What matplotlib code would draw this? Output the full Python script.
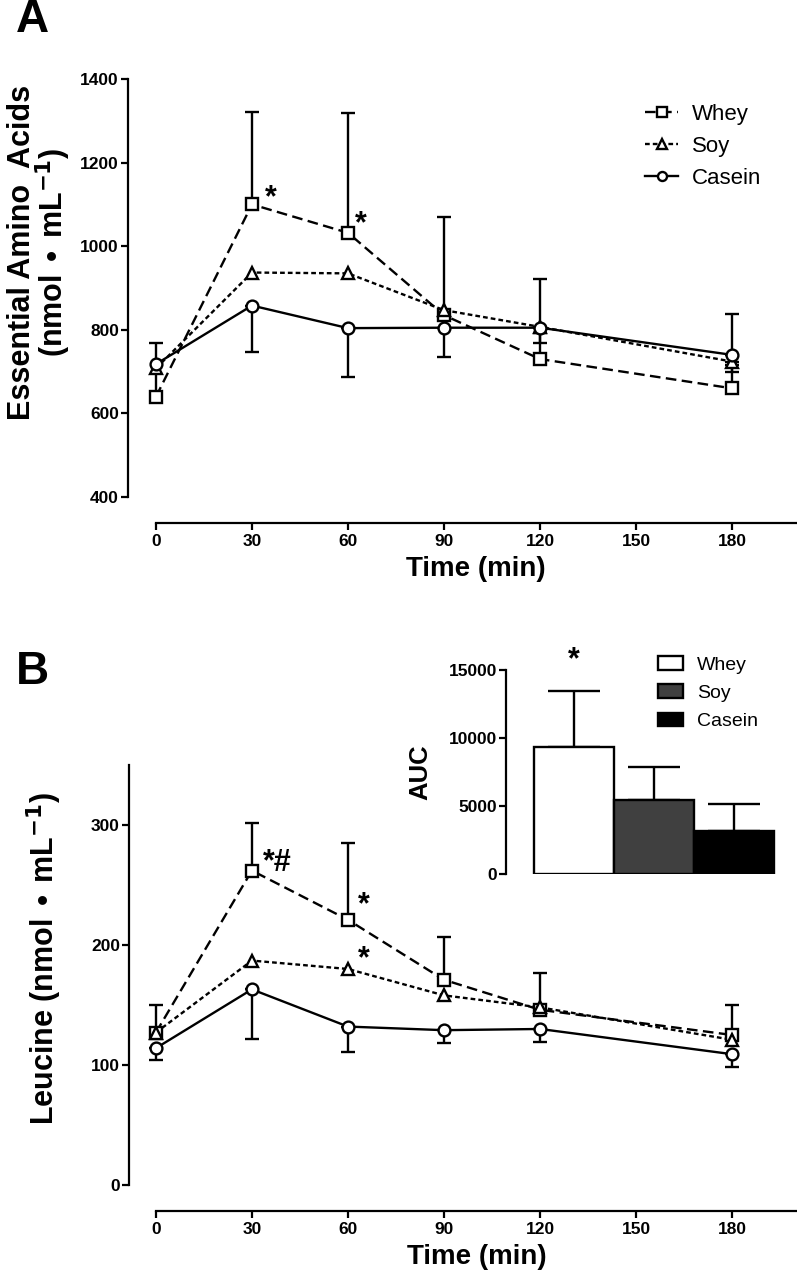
import numpy as np
import matplotlib
matplotlib.use("Agg")
import matplotlib.pyplot as plt
from matplotlib.lines import Line2D
from matplotlib.patches import Patch

plt.rcParams['font.family'] = ['Liberation Sans Narrow', 'Liberation Sans', 'DejaVu Sans']

# ── Data ─────────────────────────────────────────────────────────────────────
time = [0, 30, 60, 90, 120, 180]

# Panel A: essential amino acids (nmol/mL)
eaa_whey = [640, 1100, 1032, 835, 730, 660]
eaa_soy = [708, 937, 935, 847, 807, 724]
eaa_casein = [718, 858, 804, 805, 805, 740]
eaa_whey_up = [128, 222, 286, 236, 192, 178]
eaa_soy_down = [np.nan, np.nan, np.nan, np.nan, 15, 8]
eaa_casein_down = [np.nan, 111, 116, 69, 37, 41]

# Panel B: leucine (nmol/mL)
leu_whey = [127, 262, 221, 171, 146, 125]
leu_soy = [127, 187, 180, 158, 148, 121]
leu_casein = [114, 163, 132, 129, 130, 109]
leu_whey_up = [23, 40, 64, 36, 31, 25]
leu_casein_down = [10, 41, 21, 11, 11, 11]

# Inset: AUC
auc_groups = ['Whey', 'Soy', 'Casein']
auc_vals = [9360, 5420, 3160]
auc_err = [4100, 2470, 1960]
auc_colors = ['white', '#404040', 'black']

# ── Layout helpers (pixel -> figure fraction) ────────────────────────────────
W, H = 797, 1280
fig = plt.figure(figsize=(W / 100, H / 100), dpi=100)


def box(left, top, right, bottom):
    return [left / W, 1 - bottom / H, (right - left) / W, (bottom - top) / H]


def fxy(x, y):
    return x / W, 1 - y / H


LW = 1.7
TICK_FS = 12.5
LABEL_FS = 22
STAR_FS = 22
styles = {
    'Whey': dict(marker='s', ls=(0, (4.5, 2.3)), ms=8),
    'Soy': dict(marker='^', ls=(0, (2.0, 1.3)), ms=8.5),
    'Casein': dict(marker='o', ls='-', ms=8.5),
}


def style_axes(ax, ybounds, xbounds):
    for s in ['top', 'right']:
        ax.spines[s].set_visible(False)
    for s in ['left', 'bottom']:
        ax.spines[s].set_linewidth(1.6)
    ax.spines['left'].set_bounds(*ybounds)
    ax.spines['bottom'].set_bounds(*xbounds)
    ax.tick_params(width=1.6, length=5, labelsize=TICK_FS)
    ax.tick_params(axis='y', pad=1.5)
    ax.tick_params(axis='x', pad=3)
    for lab in ax.get_xticklabels() + ax.get_yticklabels():
        lab.set_fontweight('bold')


def draw_series(ax, name, y, up=None, down=None):
    st = styles[name]
    ax.plot(time, y, color='black', lw=LW, ls=st['ls'], zorder=3)
    t = np.array(time, dtype=float)
    yv = np.array(y, dtype=float)
    for err, sign in [(up, 1), (down, -1)]:
        if err is None:
            continue
        e = np.array(err, dtype=float)
        ok = ~np.isnan(e)
        yerr = [np.zeros(ok.sum()), e[ok]] if sign > 0 else [e[ok], np.zeros(ok.sum())]
        ax.errorbar(t[ok], yv[ok], yerr=yerr, fmt='none', ecolor='black',
                    elinewidth=1.7, capsize=4.8, capthick=1.7, zorder=2)
    ax.plot(time, y, ls='none', marker=st['marker'], ms=st['ms'], mfc='white',
            mec='black', mew=1.7, zorder=4)


def star(ax, x, y, s='*'):
    ax.text(x, y, s, fontsize=STAR_FS, fontweight='bold', ha='center', va='center',
            clip_on=False)


# ── Panel A ──────────────────────────────────────────────────────────────────
axA = fig.add_axes(box(128, 79, 797, 523))
draw_series(axA, 'Whey', eaa_whey, up=eaa_whey_up)
draw_series(axA, 'Soy', eaa_soy, down=eaa_soy_down)
draw_series(axA, 'Casein', eaa_casein, down=eaa_casein_down)
axA.set_xlim(-8.75, 200.3)
axA.set_ylim(337.8, 1400)
axA.set_yticks(range(400, 1401, 200))
axA.set_xticks(range(0, 181, 30))
style_axes(axA, (400, 1400), (0, 200.3))
axA.set_xlabel('Time (min)', fontsize=20, fontweight='bold', labelpad=8)
axA.xaxis.set_label_coords(0.52, -0.075)
star(axA, 36, 1115)
star(axA, 64, 1052)

handles = [Line2D([], [], color='black', lw=LW, ls=styles[n]['ls'], marker=styles[n]['marker'],
                  ms=6.5, mfc='white', mec='black', mew=1.7) for n in ['Whey', 'Soy', 'Casein']]
axA.legend(handles, ['Whey', 'Soy', 'Casein'], loc='upper left',
           bbox_to_anchor=fxy(645, 104), bbox_transform=fig.transFigure,
           frameon=False, fontsize=16, handlelength=1.5, handletextpad=0.6,
           labelspacing=0.5, borderpad=0, borderaxespad=0)

fig.text(*fxy(22, 252), 'Essential Amino  Acids', rotation=90, fontsize=LABEL_FS,
         fontweight='bold', ha='center', va='center')
fig.text(*fxy(53, 252), r'(nmol $\bullet$ mL$^{\mathbf{-1}}$)', rotation=90, fontsize=LABEL_FS,
         fontweight='bold', ha='center', va='center')
fig.text(*fxy(32, 20), 'A', fontsize=33, fontweight='bold', ha='center', va='center')

# ── Panel B ──────────────────────────────────────────────────────────────────
axB = fig.add_axes(box(129, 765, 797, 1211))
draw_series(axB, 'Whey', leu_whey, up=leu_whey_up)
draw_series(axB, 'Soy', leu_soy)
draw_series(axB, 'Casein', leu_casein, down=leu_casein_down)
axB.set_xlim(-8.4, 200.3)
axB.set_ylim(-21.7, 350)
axB.set_yticks([0, 100, 200, 300])
axB.set_xticks(range(0, 181, 30))
style_axes(axB, (0, 350), (0, 200.3))
axB.set_xlabel('Time (min)', fontsize=20, fontweight='bold')
axB.xaxis.set_label_coords(0.52, -0.075)
star(axB, 38, 268, '*#')
star(axB, 65, 233)
star(axB, 65, 188)

fig.text(*fxy(44, 958), r'Leucine (nmol $\bullet$ mL$^{\mathbf{-1}}$)', rotation=90,
         fontsize=LABEL_FS, fontweight='bold', ha='center', va='center')
fig.text(*fxy(32, 672), 'B', fontsize=33, fontweight='bold', ha='center', va='center')

# ── Inset: AUC bars ──────────────────────────────────────────────────────────
axI = fig.add_axes(box(506, 670, 776, 874))
x = np.arange(len(auc_groups))
axI.bar(x, auc_vals, width=1.0, color=auc_colors, edgecolor='black', lw=1.7, zorder=3)
axI.errorbar(x, auc_vals, yerr=[np.zeros(len(x)), auc_err], fmt='none', ecolor='black',
             elinewidth=1.7, capsize=18.5, capthick=1.7, zorder=2)
axI.set_xlim(-0.85, 2.52)
axI.set_ylim(0, 15000)
axI.set_yticks([0, 5000, 10000, 15000])
axI.set_xticks([])
for s in ['top', 'right', 'bottom']:
    axI.spines[s].set_visible(False)
axI.spines['left'].set_linewidth(1.6)
axI.tick_params(width=1.6, length=5, labelsize=TICK_FS, pad=1.5)
for lab in axI.get_yticklabels():
    lab.set_fontweight('bold')
axI.set_ylabel('AUC', fontsize=18.5, fontweight='bold', labelpad=12)
star(axI, 0, 15700)
patches = [Patch(facecolor=c, edgecolor='black', lw=1.7) for c in auc_colors]
axI.legend(patches, auc_groups, loc='upper left', bbox_to_anchor=fxy(658, 656),
           bbox_transform=fig.transFigure, frameon=False, fontsize=14,
           handlelength=1.3, handleheight=0.7, handletextpad=0.7,
           labelspacing=0.55, borderpad=0, borderaxespad=0)

fig.savefig('out.png', dpi=100)
